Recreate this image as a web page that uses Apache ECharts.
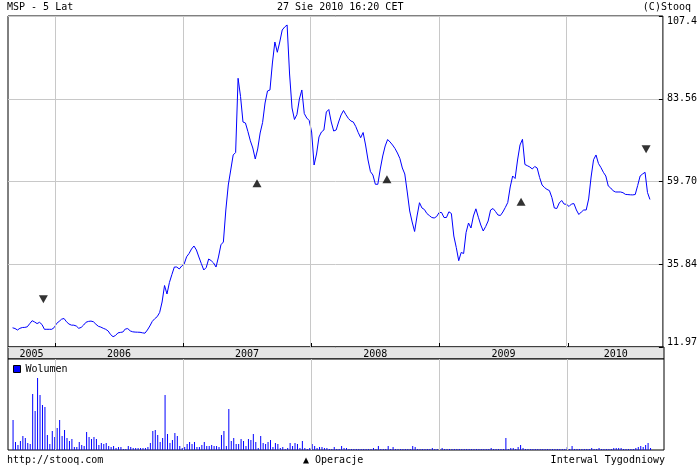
<!DOCTYPE html>
<html><head><meta charset="utf-8">
<script src="https://cdn.jsdelivr.net/npm/echarts@6/dist/echarts.min.js"></script>
<style>html,body{margin:0;padding:0;background:#fff}#c{width:700px;height:466px}</style>
</head><body><div id="c"></div>
<script>
const FONT = '"DejaVu Sans Mono", monospace';
const weekStart = '2005-09-02';
const xMin = '2005-08-20';
const xMax = '2010-10-03';

const prices = [
17.51,17.30,16.87,17.36,17.59,17.62,17.79,18.69,19.55,19.18,
18.72,19.09,18.46,17.07,17.07,17.07,17.07,17.59,18.77,19.35,
19.99,20.19,19.24,18.60,18.28,18.26,18.02,17.36,17.62,18.31,
19.12,19.35,19.44,19.24,18.54,17.94,17.71,17.36,17.07,16.58,
15.55,14.94,15.29,16.04,16.18,16.29,17.16,17.27,16.61,16.35,
16.27,16.24,16.21,16.06,15.95,16.87,18.02,19.35,20.13,20.71,
21.92,24.94,29.70,27.25,30.59,32.87,35.03,35.03,34.46,35.32,
35.90,37.98,38.93,40.22,41.09,39.94,37.92,36.02,34.17,34.89,
37.34,36.88,36.19,35.03,37.92,41.44,42.24,51.47,58.68,63.00,
67.33,68.05,89.44,84.19,76.84,76.55,74.10,71.42,69.34,66.17,
69.06,73.67,76.70,82.32,85.78,86.07,93.85,99.90,96.94,99.90,
103.36,104.23,104.81,90.68,80.88,77.56,79.00,83.47,86.07,79.29,
77.99,77.27,73.96,64.44,67.61,72.52,73.96,74.53,79.72,80.44,
76.84,74.24,74.53,76.84,78.86,80.16,78.92,77.85,77.13,76.84,
75.54,73.81,72.31,73.81,70.21,65.88,62.51,61.56,58.88,58.88,
63.29,67.04,69.92,71.79,71.07,70.21,69.20,67.90,66.32,63.58,
61.85,56.66,51.18,48.01,45.27,49.74,53.57,52.05,51.61,50.46,
49.88,49.31,49.16,49.59,50.75,50.75,49.31,49.31,50.95,50.46,
43.97,40.66,36.85,39.22,38.93,44.98,47.72,46.28,49.74,51.81,
49.39,47.14,45.41,46.71,48.30,51.47,51.90,51.04,50.03,49.88,
50.89,52.19,53.63,58.10,61.27,60.55,65.88,70.21,71.85,64.59,
64.24,63.87,63.29,64.01,63.58,60.84,58.68,57.93,57.41,57.06,
55.07,52.05,51.90,53.49,54.21,53.17,53.11,52.48,53.20,53.31,
51.47,50.17,50.89,51.47,51.47,54.64,60.98,65.97,67.33,64.88,
63.72,62.34,61.27,58.39,57.81,57.00,56.66,56.66,56.66,56.46,
55.97,55.91,55.85,55.82,55.94,58.53,61.27,61.85,62.34,56.51,54.50
];

const volumes = [
90,24,15,27,42,36,21,18,168,117,
216,165,135,129,45,18,57,39,66,90,
42,60,36,27,33,9,9,24,15,12,
54,39,33,39,33,15,21,18,21,12,
9,12,6,9,9,3,3,12,9,6,
6,6,6,6,6,9,21,57,60,45,
24,36,165,48,21,30,51,42,12,6,
9,18,24,18,24,9,9,15,24,12,
12,15,12,12,9,45,57,12,123,27,
36,18,18,33,27,12,33,30,48,24,
6,42,21,18,24,30,9,21,18,6,
9,3,6,21,12,21,18,6,27,
6,3,6,18,12,6,9,9,6,6,
3,3,9,3,3,12,6,6,
3,3,3,3,3,3,3,3,3,3,
6,3,12,3,3,3,12,3,9,3,
3,3,3,3,3,3,
12,9,
3,3,3,3,3,3,
6,3,3,3,6,
3,3,3,3,3,3,3,3,3,3,3,3,3,3,3,3,3,3,3,
6,3,3,3,3,3,
36,3,6,6,3,9,15,6,
3,3,3,3,3,3,3,3,3,3,3,3,3,3,3,3,3,
9,3,12,
3,3,3,3,3,3,3,
6,3,3,6,
3,3,3,3,3,
6,6,6,6,
3,3,3,3,3,
6,9,12,9,15,21,6
];
const volumeAxisMax = 273;

const yTickValues = [11.97, 35.84, 59.70, 83.56, 107.4];
const yTickLabels = ['11.97', '35.84', '59.70', '83.56', '107.4'];

const yearStarts = ['2005-01-01','2006-01-01','2007-01-01','2008-01-01','2009-01-01','2010-01-01','2011-01-01'];
const yearLabels = ['2005','2006','2007','2008','2009','2010'];
const yearLines = ['2006-01-01','2007-01-01','2008-01-01','2009-01-01','2010-01-01'];

const opDates = ['2005-11-29','2007-08-01','2008-08-06','2009-08-24','2010-08-16'];
const opValues = [25.72, 59.17, 60.32, 53.86, 68.97];
const opTypes = ['sell','buy','buy','buy','sell'];

function ts(s){ const p = s.split('-').map(Number); return new Date(p[0], p[1]-1, p[2]).getTime(); }
const DAY = 86400000;
const dates = prices.map((_, i) => ts(weekStart) + i * 7 * DAY);

const T = {fontFamily: FONT, fontSize: 10, fontWeight: 'normal', color: '#000'};
const GL = 8, GW = 656;
const gridLineColor = '#c8c8c8';

function hiddenX(gi){
  return {type:'time', gridIndex: gi, min: ts(xMin), max: ts(xMax),
    axisLine:{show:false}, axisTick:{show:false}, axisLabel:{show:false}, splitLine:{show:false}};
}
const yearMarkLine = {
  silent: true, symbol: ['none','none'], label: {show:false},
  lineStyle: {color: gridLineColor, type: 'solid', width: 1},
  emphasis: {disabled: true},
  data: yearLines.map(s => ({xAxis: ts(s)}))
};

const chart = echarts.init(document.getElementById('c'), null, {renderer: 'canvas'});
chart.setOption({
  animation: false,
  backgroundColor: '#fff',
  textStyle: {fontFamily: FONT},
  title: [
    {text: 'MSP - 5 Lat', left: 7, top: 2, padding: 0, textStyle: T},
    {text: '27 Sie 2010 16:20 CET', left: 277, top: 2, padding: 0, textStyle: T},
    {text: '(C)Stooq', right: 9, top: 2, padding: 0, textStyle: T},
    {text: 'http://stooq.com', left: 7, top: 455, padding: 0, textStyle: T},
    {text: '▲ Operacje', left: 303, top: 455, padding: 0, textStyle: T},
    {text: 'Interwal Tygodniowy', right: 35, top: 455, padding: 0, textStyle: T}
  ],
  legend: {
    data: ['Wolumen'], left: 13, top: 364, padding: 0, selectedMode: false,
    icon: 'rect', itemWidth: 7, itemHeight: 7, itemGap: 4,
    itemStyle: {borderColor: '#000', borderWidth: 1},
    textStyle: {fontFamily: FONT, fontSize: 10, color: '#000'}
  },
  grid: [
    {left: GL, top: 16, width: GW, height: 331, show: true, borderColor: '#000', borderWidth: 1, backgroundColor: '#fff'},
    {left: GL, top: 347, width: GW, height: 12, show: true, borderColor: '#000', borderWidth: 1, backgroundColor: '#e6e6e6'},
    {left: GL, top: 359, width: GW, height: 91, show: true, borderColor: '#000', borderWidth: 1, backgroundColor: '#fff'}
  ],
  xAxis: [hiddenX(0), hiddenX(1), hiddenX(2)],
  yAxis: [
    {type: 'value', gridIndex: 0, position: 'right', min: yTickValues[0], max: yTickValues[4],
      interval: (yTickValues[4] - yTickValues[0]) / 4,
      axisLine: {show: false},
      axisTick: {show: true, inside: true, length: 4, lineStyle: {color: '#000'}},
      splitLine: {show: true, lineStyle: {color: gridLineColor, width: 1}},
      axisLabel: {
        margin: 4, fontFamily: FONT, fontSize: 10, color: '#000',
        verticalAlignMinLabel: 'bottom', verticalAlignMaxLabel: 'top',
        formatter: function(v){
          let bi = 0, bd = Infinity;
          yTickValues.forEach((t, i) => { const d = Math.abs(t - v); if (d < bd) { bd = d; bi = i; } });
          return yTickLabels[bi];
        }
      }
    },
    {type: 'value', gridIndex: 1, min: 0, max: 1, show: false},
    {type: 'value', gridIndex: 2, min: 0, max: volumeAxisMax, show: false, splitLine: {show: false}}
  ],
  series: [
    {
      name: 'MSP', type: 'line', xAxisIndex: 0, yAxisIndex: 0,
      data: dates.map((d, i) => [d, prices[i]]),
      showSymbol: false, symbol: 'none', silent: true,
      lineStyle: {color: '#0000ff', width: 1},
      itemStyle: {color: '#0000ff'},
      markLine: yearMarkLine, z: 3
    },
    {
      name: 'Operacje', type: 'scatter', xAxisIndex: 0, yAxisIndex: 0,
      symbol: 'triangle', symbolSize: [9, 8], silent: true,
      itemStyle: {color: '#000'},
      data: opDates.map((d, i) => ({value: [ts(d), opValues[i]], symbolRotate: opTypes[i] === 'sell' ? 180 : 0})),
      z: 4
    },
    {
      name: 'years', type: 'custom', xAxisIndex: 1, yAxisIndex: 1, clip: false, silent: true, z: 10,
      encode: {x: [0, 1], y: 2},
      data: yearLabels.map((l, i) => [ts(yearStarts[i]), ts(yearStarts[i + 1]), 0.5]),
      renderItem: function(params, api){
        const cs = params.coordSys;
        const a = api.coord([api.value(0), 0.5])[0];
        const b = api.coord([api.value(1), 0.5])[0];
        const x0 = Math.max(a, cs.x), x1 = Math.min(b, cs.x + cs.width);
        const children = [];
        if (x1 > x0) {
          children.push({type: 'text', x: (x0 + x1) / 2, y: cs.y + cs.height / 2 + 1,
            style: {text: yearLabels[params.dataIndex], align: 'center', verticalAlign: 'middle',
              fill: '#000', font: '10px "DejaVu Sans Mono"'}});
        }
        if (a > cs.x + 1 && a < cs.x + cs.width - 1) {
          const xa = Math.round(a) + 0.5;
          children.push({type: 'line', shape: {x1: xa, y1: cs.y - 4, x2: xa, y2: cs.y},
            style: {stroke: '#000', lineWidth: 1}});
        }
        return {type: 'group', children: children};
      }
    },
    {
      name: 'Wolumen', type: 'bar', xAxisIndex: 2, yAxisIndex: 2,
      data: dates.map((d, i) => [d, volumes[i]]),
      barWidth: 1, silent: true,
      itemStyle: {color: '#0000ff'},
      markLine: yearMarkLine, z: 3
    }
  ]
});
</script></body></html>
